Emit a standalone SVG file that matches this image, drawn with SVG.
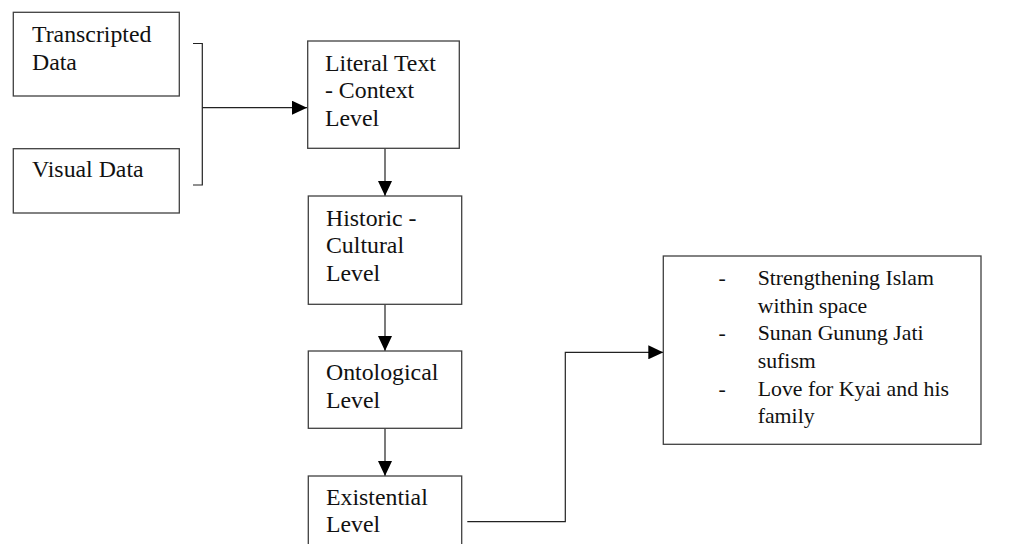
<svg xmlns="http://www.w3.org/2000/svg" width="1034" height="544" viewBox="0 0 1034 544">
<style>
.box{fill:#fff;stroke:#404040;stroke-width:1.3}
.t{font-family:"Liberation Serif","Times New Roman",serif;font-size:23.8px;fill:#111}
.tr{font-family:"Liberation Serif","Times New Roman",serif;font-size:21.8px;fill:#111}
.c{fill:none;stroke:#222;stroke-width:1.2}
</style>
<defs>
<marker id="ah" markerWidth="15" markerHeight="14" refX="15" refY="7" orient="auto" markerUnits="userSpaceOnUse">
<path d="M0,0 L15,7 L0,14 Z" fill="#000"/>
</marker>
</defs>
<rect width="1034" height="544" fill="#fff"/>
<g id="connectors">
<path class="c" d="M193,43.5 H202.3 V185 H193"/>
<path class="c" d="M202.3,107.7 H307" marker-end="url(#ah)"/>
<path class="c" d="M385,148.3 V196" marker-end="url(#ah)"/>
<path class="c" d="M385,304.3 V351" marker-end="url(#ah)"/>
<path class="c" d="M385,428.3 V476" marker-end="url(#ah)"/>
<path class="c" d="M467.3,521.7 H565.3 V352.3 H663.3" marker-end="url(#ah)"/>
</g>
<g id="transcripted">
<rect class="box" x="13.3" y="12.3" width="166" height="83.7"/>
<text class="t" x="32" y="41.7">Transcripted</text>
<text class="t" x="32" y="69.5">Data</text>
</g>
<g id="visual">
<rect class="box" x="13.3" y="148.7" width="166" height="64.3"/>
<text class="t" x="32" y="177">Visual Data</text>
</g>
<g id="literal">
<rect class="box" x="307.7" y="41" width="151.6" height="107.3"/>
<text class="t" x="325" y="71">Literal Text</text>
<text class="t" x="325" y="97.7">- Context</text>
<text class="t" x="325" y="125.7">Level</text>
</g>
<g id="historic">
<rect class="box" x="308.3" y="196" width="153.4" height="108.3"/>
<text class="t" x="326" y="225.7">Historic -</text>
<text class="t" x="326" y="253.3">Cultural</text>
<text class="t" x="326" y="280.7">Level</text>
</g>
<g id="ontological">
<rect class="box" x="308.3" y="351" width="153.4" height="77.3"/>
<text class="t" x="326" y="380">Ontological</text>
<text class="t" x="326" y="408.3">Level</text>
</g>
<g id="existential">
<rect class="box" x="308.3" y="476" width="153.4" height="80"/>
<text class="t" x="326" y="505">Existential</text>
<text class="t" x="326" y="531.7">Level</text>
</g>
<g id="results">
<rect class="box" x="663.3" y="256" width="317.7" height="188.3"/>
<text class="tr" x="718.5" y="285">-</text>
<text class="tr" x="757.7" y="285">Strengthening Islam</text>
<text class="tr" x="757.7" y="312.7">within space</text>
<text class="tr" x="718.5" y="340">-</text>
<text class="tr" x="757.7" y="340">Sunan Gunung Jati</text>
<text class="tr" x="757.7" y="367.7">sufism</text>
<text class="tr" x="718.5" y="396">-</text>
<text class="tr" x="757.7" y="396">Love for Kyai and his</text>
<text class="tr" x="757.7" y="423.3">family</text>
</g>
</svg>
